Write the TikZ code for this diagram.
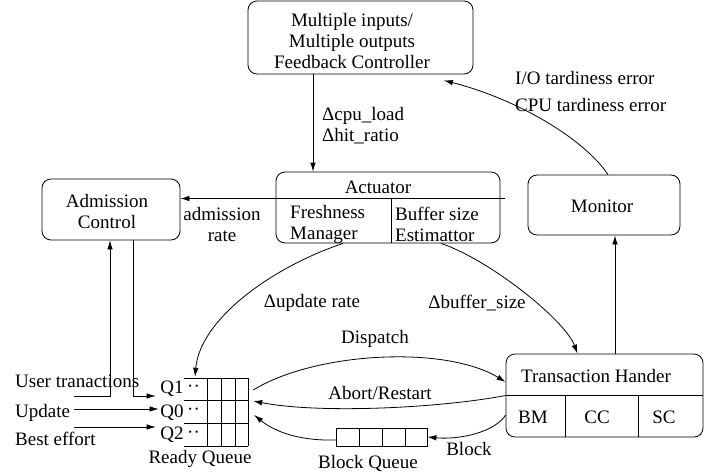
\documentclass[tikz,border=0pt]{standalone}
\usepackage{fontspec}
\setmainfont{Liberation Serif}
\usetikzlibrary{arrows.meta,calc}
\tikzset{
  boxnode/.style={
    draw,
    rounded corners=9pt,
    line width=0.8pt,
    inner sep=0pt
  },
  txt/.style={inner sep=0pt, align=center},
  flowarrow/.style={-{Latex[length=9pt,width=5.5pt]},line width=0.8pt},
  plainline/.style={line width=0.8pt}
}
\begin{document}
\begin{tikzpicture}[x=1pt,y=-1pt,font=\fontsize{19}{21}\selectfont]
  \useasboundingbox (0,0) rectangle (724,474);
  % boxes
  \node[boxnode, minimum width=225pt, minimum height=73pt] (ctrl) at (360.5,37.5) {};
  \node[txt] (ctrltext) at (352,41) {Multiple inputs/\\Multiple outputs\\Feedback Controller};
  \node[boxnode, minimum width=224pt, minimum height=71pt] (act) at (388,207.5) {};
  \node[boxnode, minimum width=138pt, minimum height=61pt] (adm) at (111,209.5) {};
  \node[txt] (admtext) at (107,211) {Admission\\Control};
  \node[boxnode, minimum width=152pt, minimum height=60pt] (mon) at (604,205) {};
  \node[txt] (montext) at (602,206) {Monitor};
  \node[boxnode, minimum width=197pt, minimum height=83pt] (th) at (604.5,395.5) {};
  \node[draw, line width=0.8pt, minimum width=91pt, minimum height=18pt, inner sep=0pt] (bq) at (381.5,437) {};
  \node[minimum width=64pt, minimum height=68pt, inner sep=0pt] (rq) at (216,412) {};
  % ready queue cells
  \foreach \y in {378,400,423,446}
    \draw[plainline] (184,\y) -- (248,\y);
  \foreach \x in {207,221,235,248}
    \draw[plainline] (\x,378) -- (\x,446);
  % block queue cells
  \foreach \x in {359,382,405}
    \draw[plainline] (\x,428) -- (\x,446);
  % actuator parts
  \draw[plainline] (act.west) ++(0,-9) -- ([xshift=5pt,yshift=9pt]act.east);
  \draw[plainline] ([xshift=3pt,yshift=9pt]act.center) -- ([xshift=3pt]act.south);
  \node[txt] (acttitle) at (378,187) {Actuator};
  \node[txt, align=left, anchor=west] (fresh) at (290,224) {Freshness\\Manager};
  \node[txt, align=left, anchor=west] (bufest) at (395,224) {Buffer size\\Estimattor};
  % transaction handler parts
  \draw[plainline] (th.west) -- (th.east);
  \draw[plainline] ([xshift=-39.5pt]th.center) -- ([xshift=-39.5pt]th.south);
  \draw[plainline] ([xshift=33.5pt]th.center) -- ([xshift=33.5pt]th.south);
  \node[txt] (thtitle) at (596,376) {Transaction Hander};
  \node[txt] (bm) at (533,417) {BM};
  \node[txt] (cc) at (597,417) {CC};
  \node[txt] (sc) at (664,417) {SC};
  % queue labels
  \node[txt] (q1) at (172,389) {Q1};
  \node[txt] (q0) at (172,413) {Q0};
  \node[txt] (q2) at (172,435) {Q2};
  \node[txt] (d1) at (193.5,389) {··};
  \node[txt] (d0) at (193.5,412) {··};
  \node[txt] (d2) at (193.5,435) {··};
  \node[txt] (lrq) at (200,459) {Ready Queue};
  \node[txt] (lbq) at (368,463) {Block Queue};
  \node[txt, anchor=west] (luser) at (15,381) {User tranactions};
  \node[txt, anchor=west] (lupdate) at (15,413) {Update};
  \node[txt, anchor=west] (lbest) at (15,439) {Best effort};
  \coordinate (usrin) at (74,396);
  \coordinate (updin) at (74,409);
  \coordinate (bestin) at (74,427);
  % edge labels
  \node[txt, align=left, anchor=west] (ldelta) at (322,126) {Δcpu\_load\\Δhit\_ratio};
  \node[txt] (ladm) at (222,224) {admission\\rate};
  \node[txt] (lupd) at (312,303) {Δupdate rate};
  \node[txt] (lbuf) at (477,303) {Δbuffer\_size};
  \node[txt] (ldisp) at (375,339) {Dispatch};
  \node[txt] (labort) at (380,393) {Abort/Restart};
  \node[txt] (lblock) at (469,449) {Block};
  \node[txt, anchor=west] (lio) at (515,78) {I/O tardiness error};
  \node[txt, anchor=west] (lcpu) at (515,105) {CPU tardiness error};
  % connectors
  \draw[flowarrow] ([xshift=-47.5pt]ctrl.south) -- ([xshift=-47.5pt]ctrl.south |- act.north);
  \draw[flowarrow] ([yshift=9pt]act.west) -- ([yshift=9pt]act.west -| adm.east);
  \draw[flowarrow] (usrin) -| ([xshift=-1pt]adm.south);
  \draw[flowarrow] ([xshift=22pt]adm.south) |- ([xshift=-4.5pt,yshift=-7pt]q1.west);
  \draw[flowarrow] (updin) -- ([xshift=-1.5pt]updin -| q0.west);
  \draw[flowarrow] (bestin) -- ([xshift=-4.5pt]bestin -| q2.west);
  \draw[flowarrow] ([xshift=-45pt]act.south) .. controls (270,268) and (200,320) .. ([xshift=-21pt,yshift=1pt]rq.north);
  \draw[flowarrow] ([xshift=53pt]act.south) .. controls (490,260) and (565,320) .. ([xshift=-27pt]th.north);
  \draw[flowarrow] ([xshift=5pt,yshift=22pt]rq.east) .. controls (315,352) and (445,345) .. ([yshift=13.5pt]th.west);
  \draw[flowarrow] (th.west) .. controls (440,408) and (320,414) .. ([xshift=5pt,yshift=11pt]rq.east);
  \draw[flowarrow] ([yshift=-19.5pt]th.west) .. controls (495,432) and (460,440) .. (bq.east);
  \draw[flowarrow] ([yshift=-3pt]bq.west) .. controls (300,441) and (275,432) .. ([xshift=6pt,yshift=-3pt]rq.east);
  \draw[flowarrow] ([xshift=10.5pt]th.north) -- ([xshift=10.5pt]th.north |- mon.south);
  \draw[flowarrow] ([xshift=4pt]mon.north) .. controls (585,140) and (520,100) .. ([xshift=83.5pt,yshift=-6pt]ctrl.south);
\end{tikzpicture}
\end{document}
